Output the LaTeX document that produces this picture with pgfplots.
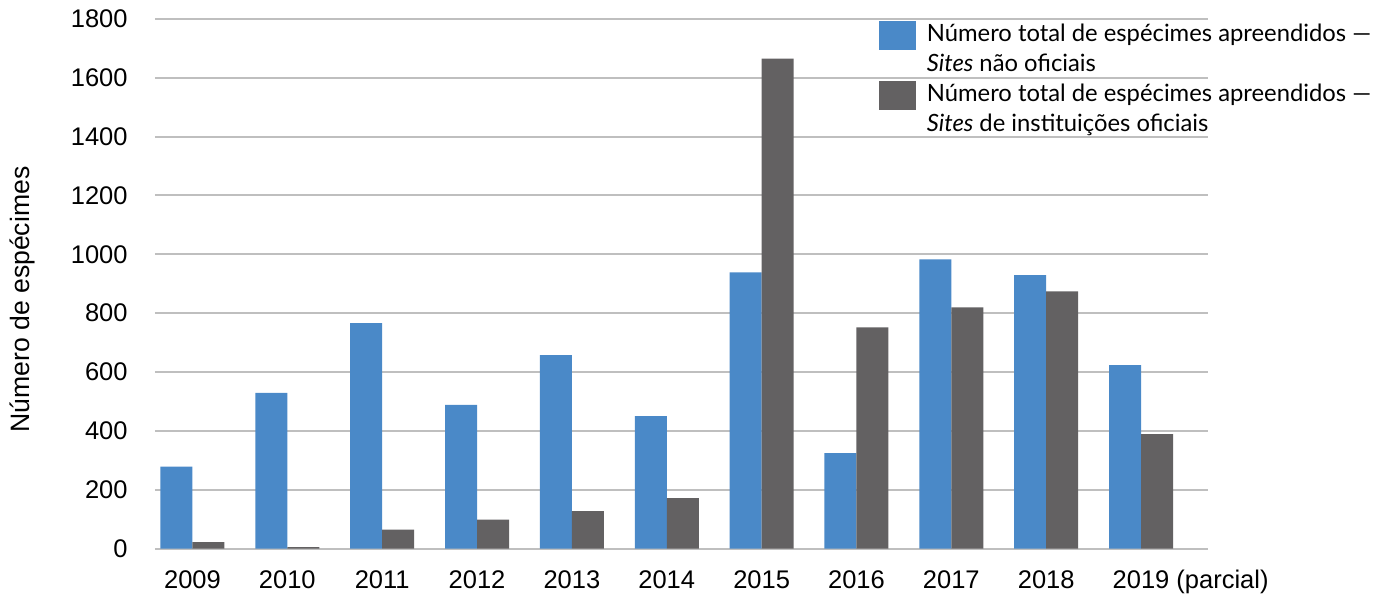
\documentclass[border=0pt]{standalone}
\usepackage{fontspec}
\setmainfont{Liberation Sans}
\newfontfamily\latofont{Lato}
\usepackage{pgfplots}
\pgfplotsset{compat=1.18}
\definecolor{blueC}{HTML}{4A89C8}
\definecolor{grayC}{HTML}{636162}
\definecolor{gridC}{HTML}{BFBFBF}

\begin{document}
\begin{tikzpicture}
\useasboundingbox (-77.5pt,-23.25pt) rectangle (617.5pt,274.25pt);
\begin{axis}[
  at={(0,0)}, anchor=south west,
  scale only axis, width=526.5pt, height=264.75pt,
  ybar=0pt, bar width=16pt,
  xmin=-0.395, xmax=10.706, ymin=0, ymax=1800,
  ytick={0,200,...,1800},
  xtick={0,...,10},
  xticklabels={2009,2010,2011,2012,2013,2014,2015,2016,2017,2018,{2019\rlap{ (parcial)}}},
  ymajorgrids, grid style={gridC, line width=1pt},
  axis line style={draw=none},
  major tick length=0pt,
  tick label style={font=\fontsize{12.75}{15}\selectfont, inner sep=0pt},
  /pgf/number format/assume math mode=true,
  /pgf/number format/1000 sep={},
  yticklabel style={anchor=east, xshift=-13.5pt},
  xticklabel style={anchor=base, yshift=-19.75pt},
  ylabel={Número de espécimes},
  every axis y label/.style={at={(axis description cs:0,0.470)}, xshift=-66.5pt, rotate=90, anchor=center, font=\fontsize{13.3}{15}\selectfont},
  legend style={at={(rel axis cs:0.6876,0.9987)}, anchor=north west, draw=none, fill=none,
    inner sep=0pt, outer sep=0pt, row sep=0pt, column sep=5.5pt,
    font=\latofont\fontsize{11.9}{15}\selectfont,
    nodes={inner sep=0pt, text height=11pt, text depth=4pt},
    cells={anchor=base west}},
]
\addplot[fill=blueC, draw=none, bar shift=-8pt, forget plot] coordinates {
  (0,278) (1,529) (2,766) (3,488) (4,657) (5,450) (6,939) (7,324) (8,983) (9,929) (10,623)};
\addplot[fill=grayC, draw=none, bar shift=8pt, forget plot] coordinates {
  (0,22) (1,5) (2,64) (3,98) (4,127) (5,171) (6,1665) (7,752) (8,820) (9,874) (10,389)};
\addlegendimage{legend image code/.code={\fill[blueC] (0pt,-3.65pt) rectangle (18pt,10.35pt);}}
\addlegendentry{Número total de espécimes apreendidos —}
\addlegendimage{empty legend}
\addlegendentry{\textit{Sites} não oficiais}
\addlegendimage{legend image code/.code={\fill[grayC] (0pt,-3.65pt) rectangle (18pt,10.35pt);}}
\addlegendentry{Número total de espécimes apreendidos —}
\addlegendimage{empty legend}
\addlegendentry{\textit{Sites} de instituições oficiais}
\end{axis}
\end{tikzpicture}
\end{document}
